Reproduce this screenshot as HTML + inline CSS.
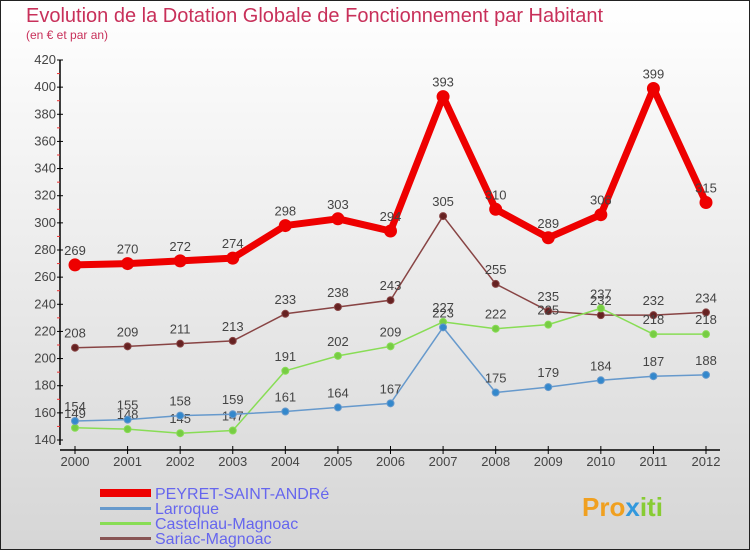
<!DOCTYPE html>
<html><head><meta charset="utf-8"><style>
html,body{margin:0;padding:0}
body{width:750px;height:550px;overflow:hidden;font-family:"Liberation Sans",sans-serif}
</style></head><body>
<svg id="chart" width="750" height="550" xmlns="http://www.w3.org/2000/svg">
<defs><linearGradient id="bg" x1="0" y1="0" x2="0" y2="1"><stop offset="0" stop-color="#ffffff"/><stop offset="1" stop-color="#d6d6d6"/></linearGradient></defs>
<rect x="0.5" y="0.5" width="749" height="549" fill="url(#bg)" stroke="#222"/>
<text x="26" y="22" font-size="20" fill="#c8305a">Evolution de la Dotation Globale de Fonctionnement par Habitant</text>
<text x="26" y="39" font-size="12" fill="#c8305a">(en € et par an)</text>
<g id="axes"></g><g id="series"></g>
<g>
<rect x="100" y="489" width="51" height="8" fill="#ee0000"/>
<text x="155" y="499" font-size="16" fill="#6666ee">PEYRET-SAINT-ANDRé</text>
<rect x="100" y="507" width="51" height="3" fill="#6699cc"/>
<text x="155" y="514" font-size="16" fill="#6666ee">Larroque</text>
<rect x="100" y="522" width="51" height="3" fill="#88dd55"/>
<text x="155" y="529" font-size="16" fill="#6666ee">Castelnau-Magnoac</text>
<rect x="100" y="537" width="51" height="3" fill="#885555"/>
<text x="155" y="544" font-size="16" fill="#6666ee">Sariac-Magnoac</text>
</g>
<text x="582" y="516" font-size="26" font-weight="bold" fill="#f0a020">Pro<tspan fill="#3399dd">x</tspan><tspan fill="#88cc33">iti</tspan></text>
</svg>
<script>
const years=[2000,2001,2002,2003,2004,2005,2006,2007,2008,2009,2010,2011,2012];
const peyret=[269,270,272,274,298,303,294,393,310,289,306,399,315];
const larroque=[154,155,158,159,161,164,167,223,175,179,184,187,188];
const castelnau=[149,148,145,147,191,202,209,227,222,225,237,218,218];
const sariac=[208,209,211,213,233,238,243,305,255,235,232,232,234];
const yTicks=[140,160,180,200,220,240,260,280,300,320,340,360,380,400,420];
const NS="http://www.w3.org/2000/svg";
const X=i=>75+i*(706-75)/12;
const Y=v=>440-(v-140)*(380/280);
function mk(tag,attrs,parent){const e=document.createElementNS(NS,tag);for(const k in attrs)e.setAttribute(k,attrs[k]);parent.appendChild(e);return e;}
const axes=document.getElementById('axes'),ser=document.getElementById('series');
let yl=mk('line',{x1:60,y1:Y(420),x2:60,y2:445,stroke:'#000','stroke-width':1.5},axes);


let xl=mk('line',{x1:60,y1:450,x2:720,y2:450,stroke:'#000','stroke-width':1.5},axes);


yTicks.forEach(v=>{
  mk('line',{x1:57,y1:Y(v),x2:63,y2:Y(v),stroke:'#000'},axes);
  if(v<420)mk('line',{x1:57,y1:Y(v+10),x2:60,y2:Y(v+10),stroke:'#e33'},axes);
  const t=mk('text',{x:56,y:Y(v)+4,'font-size':13,'text-anchor':'end',fill:'#444'},axes);
  t.textContent=v;
  
  
});
years.forEach((yr,i)=>{
  mk('line',{x1:X(i),y1:446,x2:X(i),y2:454,stroke:'#000'},axes);
  const t=mk('text',{x:X(i),y:466,'font-size':13,'text-anchor':'middle',fill:'#444'},axes);
  t.textContent=yr;
  
  
});
function draw(data,color,w,r,dot,name){
  const g=mk('g',{},ser);
  
  
  mk('polyline',{points:data.map((v,i)=>X(i)+','+Y(v)).join(' '),fill:'none',stroke:color,'stroke-width':w,'stroke-linejoin':'round'},g);
  data.forEach((v,i)=>{
    const c=mk('circle',{cx:X(i),cy:Y(v),r:r,fill:dot,stroke:color,'stroke-width':1},g);
    
    
    const t=mk('text',{x:X(i),y:Y(v)-10,'font-size':13,'text-anchor':'middle',fill:'#444'},g);
    t.textContent=v;
    
    
  });
}
draw(sariac,'#884444',1.5,3.5,'#662222','sariac');
draw(castelnau,'#88dd55',1.5,3.5,'#77cc44','castelnau');
draw(larroque,'#6699cc',1.5,3.5,'#3388cc','larroque');
draw(peyret,'#ee0000',7,6,'#ee0000','peyret');
</script>
</body></html>
